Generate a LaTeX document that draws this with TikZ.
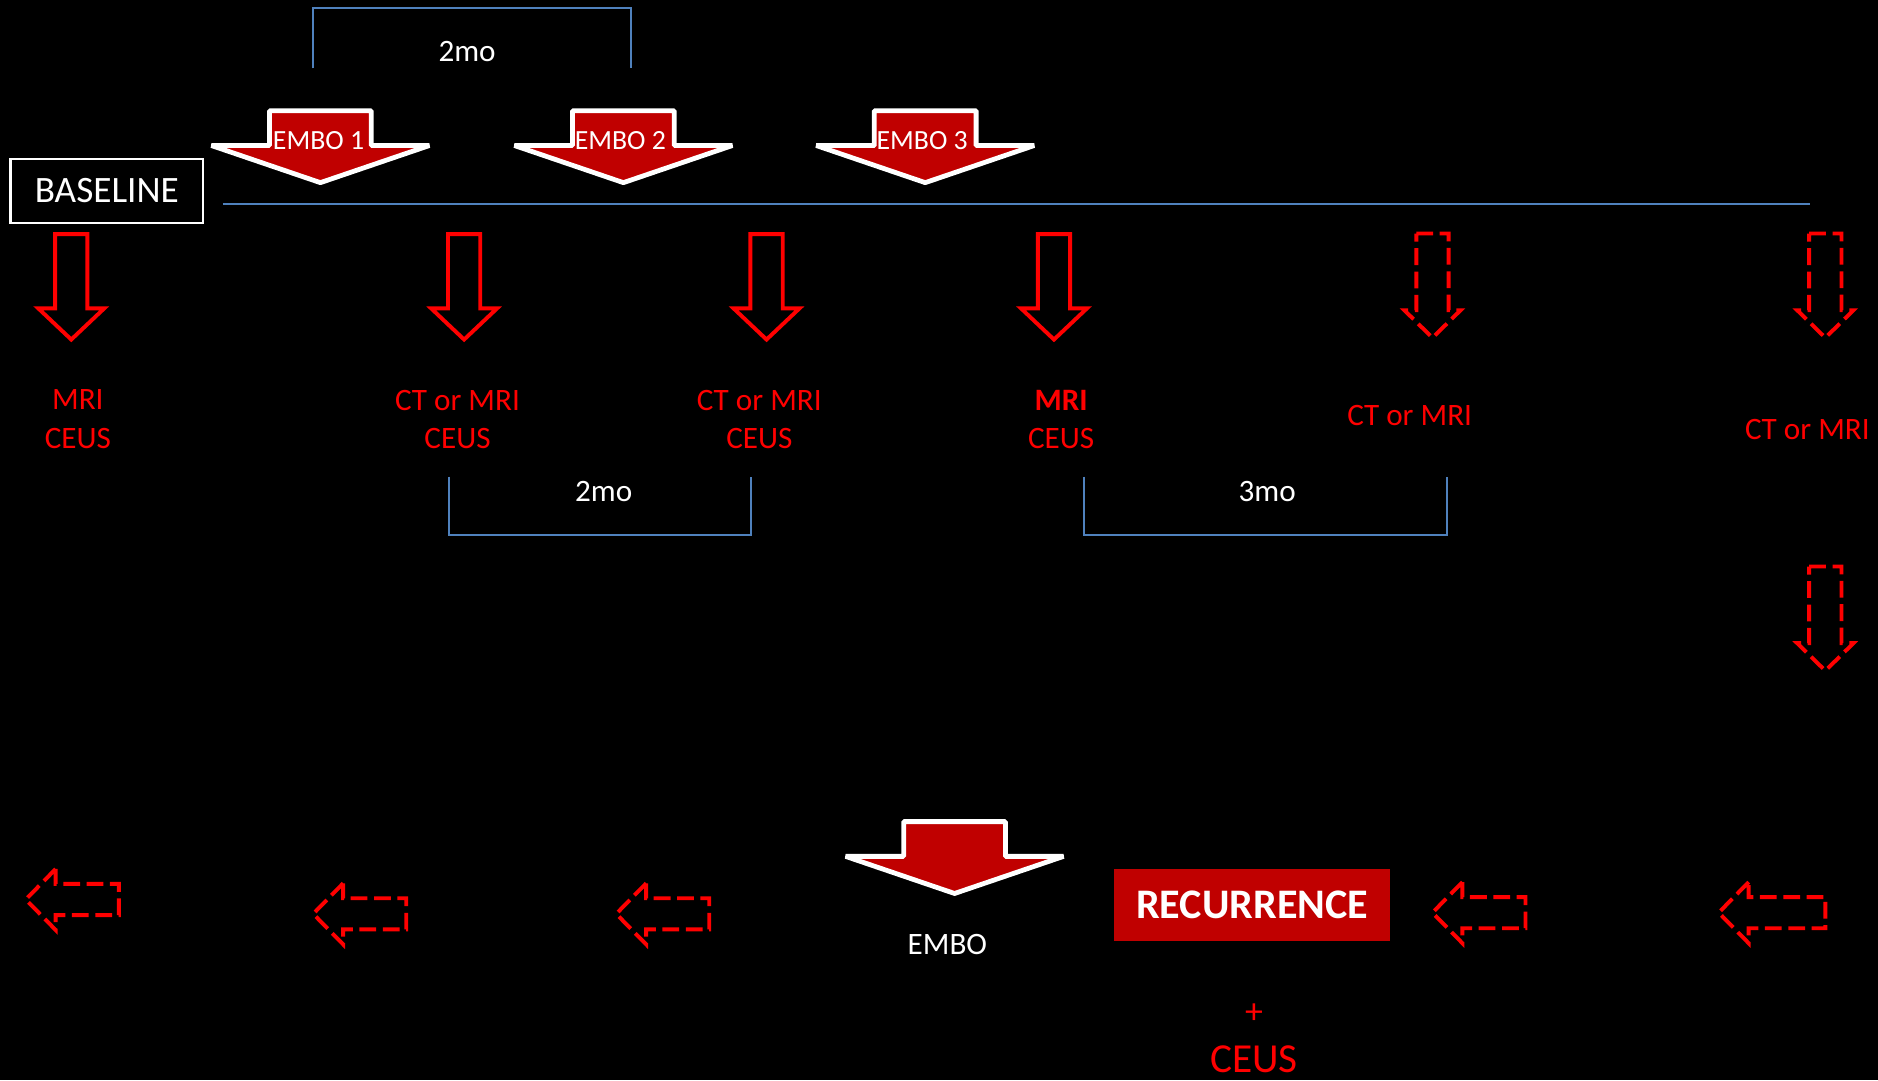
\documentclass[tikz,border=0pt]{standalone}
\usepackage{fontspec}
\setmainfont{Carlito}
\definecolor{embored}{HTML}{C00000}
\definecolor{tlblue}{HTML}{4F81BD}

\def\SW{13.5}  % shaft half width, scan arrow
\def\HW{27.5}  % head half width, scan arrow

\tikzset{
  lbl/.style={text=red, font=\fontsize{14.8}{18.2}\selectfont, align=center, inner sep=0pt},
  wlbl/.style={text=white, font=\fontsize{14.8}{18.2}\selectfont, inner sep=0pt},
  elbl/.style={text=white, font=\fontsize{13.2}{15}\selectfont, inner sep=0pt},
  tline/.style={draw=tlblue, line width=0.35mm},
  scan/.style={draw=red, line width=0.65mm, line join=miter},
  maybe/.style={scan, dash pattern=on 2.8mm off 1.1mm},
  embo/.style={fill=embored, draw=white, line width=0.8mm, line join=bevel},
  pics/embo arrow/.style={code={
    \draw[embo] (-42.5,-29) -- (42.5,-29) -- (42.5,0) -- (91,0) -- (0,31)
      -- (-91,0) -- (-42.5,0) -- cycle;}},
  pics/scan arrow/.style={code={
    \draw[scan] (-\SW,-62) -- (\SW,-62) -- (\SW,0) -- (\HW,0) -- (0,26)
      -- (-\HW,0) -- (-\SW,0) -- cycle;}},
  pics/maybe down/.style={code={
    \draw[maybe] (-13.5,-64) -- (13.5,-64) -- (13.5,0) -- (23.5,0) -- (0,23)
      -- (-23.5,0) -- (-13.5,0) -- cycle;}},
  pics/maybe left/.style={code={
    \draw[maybe] (0,-25.5) -- (-25,0) -- (0,25.5) -- (0,13) -- (#1,13)
      -- (#1,-13) -- (0,-13) -- cycle;}},
  pics/maybe left/.default=52.7,
}

\begin{document}
\begin{tikzpicture}[x=0.2mm,y=-0.2mm]
  \fill[black] (0,0) rectangle (1568,902);
  \useasboundingbox (0,0) rectangle (1568,902);

  % timeline
  \node[draw=white, line width=0.4mm, minimum width=32.2mm, minimum height=10.6mm,
        text=white, font=\fontsize{17.7}{20}\selectfont] (baseline) at (89.2,159.5)
        {BASELINE\hspace{1.8mm}};
  \coordinate (t0) at (186,170);
  \coordinate (t1) at (1511,170);
  \draw[tline] (t0) -- (t1);

  % embolisations
  \pic at (267.5,121.5) {embo arrow};
  \pic at (520.5,121.5) {embo arrow};
  \pic at (772.5,121.5) {embo arrow};
  \node[elbl] (embo1) at (266,117) {EMBO 1};
  \node[elbl] (embo2) at (518,117) {EMBO 2};
  \node[elbl] (embo3) at (770,117) {EMBO 3};

  \draw[tline] (261,57) -- (261,7) -- (527,7) -- (527,57);
  \node[wlbl] (gap1) at (390,43) {2mo};

  % imaging
  \pic at (59.5,257.5) {scan arrow};
  \pic at (387.5,257.5) {scan arrow};
  \pic at (640,257.5) {scan arrow};
  \pic at (880,257.5) {scan arrow};
  \pic at (1196,259) {maybe down};
  \pic at (1524,259) {maybe down};
  \pic at (1524,537) {maybe down};

  \node[lbl] (img0) at (65,350) {MRI\\CEUS};
  \node[lbl] (img1) at (382,350) {CT or MRI\\CEUS};
  \node[lbl] (img2) at (634,350) {CT or MRI\\CEUS};
  \node[lbl] (img3) at (886,350) {\bfseries MRI\\CEUS};
  \node[lbl] (img4) at (1177,347) {CT or MRI};
  \node[lbl] (img5) at (1509,359) {CT or MRI};

  \draw[tline] (375,398) -- (375,447) -- (627,447) -- (627,398);
  \node[wlbl] (gap2) at (504,410) {2mo};
  \draw[tline] (905,398) -- (905,447) -- (1208,447) -- (1208,398);
  \node[wlbl] (gap3) at (1058,410) {3mo};

  % recurrence
  \pic at (46.5,751) {maybe left};
  \pic at (286.5,763) {maybe left};
  \pic at (539.5,763) {maybe left};
  \pic at (1221,762) {maybe left};
  \pic at (1460,762) {maybe left=64};

  \pic at (797,715) {embo arrow};
  \node[wlbl] (embo) at (791,789) {EMBO};
  \node[fill=embored, minimum width=46mm, minimum height=11.9mm, text=white,
        font=\fontsize{20}{22}\selectfont\bfseries] (rec) at (1045.5,755.5) {RECURRENCE};
  \node[text=red, font=\fontsize{17}{20}\selectfont, inner sep=0pt] (plus) at (1047,846) {+};
  \node[text=red, font=\fontsize{19.6}{22}\selectfont, inner sep=0pt] (ceus) at (1047,884) {CEUS};
\end{tikzpicture}
\end{document}
